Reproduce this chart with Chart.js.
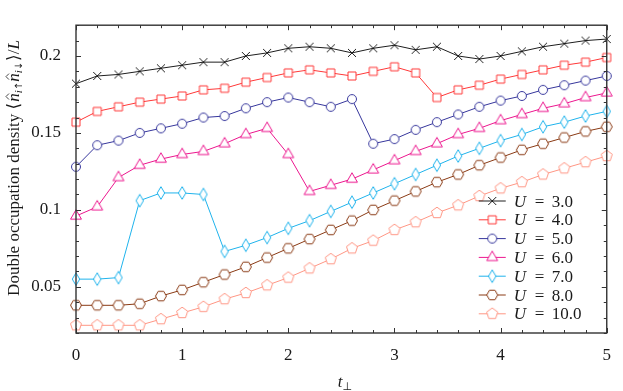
<!DOCTYPE html>
<html>
<head>
<meta charset="utf-8">
<script src="https://cdn.jsdelivr.net/npm/chart.js@4/dist/chart.umd.min.js"></script>
<style>
    body { margin: 0; background: #ffffff; }
    canvas { display: block; }
</style>
</head>
<body>
<canvas id="myChart" width="623" height="391"></canvas>
<script>
// hopping t_perp values (x axis)
const tValues = [0, 0.2, 0.4, 0.6, 0.8, 1.0, 1.2, 1.4, 1.6, 1.8, 2.0, 2.2, 2.4,
    2.6, 2.8, 3.0, 3.2, 3.4, 3.6, 3.8, 4.0, 4.2, 4.4, 4.6, 4.8, 5.0]

// double occupation density per U
const u3 = [0.182, 0.187, 0.188, 0.190, 0.192, 0.194, 0.196, 0.196, 0.200, 0.202, 0.205, 0.206, 0.205,
    0.202, 0.205, 0.207, 0.204, 0.206, 0.200, 0.198, 0.200, 0.203, 0.206, 0.208, 0.210, 0.211]
const u4 = [0.157, 0.164, 0.167, 0.170, 0.172, 0.174, 0.178, 0.179, 0.183, 0.186, 0.189, 0.191, 0.189,
    0.187, 0.190, 0.193, 0.189, 0.173, 0.178, 0.181, 0.185, 0.188, 0.191, 0.194, 0.196, 0.199]
const u5 = [0.128, 0.142, 0.145, 0.150, 0.153, 0.156, 0.160, 0.161, 0.166, 0.170, 0.173, 0.170, 0.167,
    0.172, 0.143, 0.146, 0.152, 0.157, 0.162, 0.167, 0.171, 0.174, 0.178, 0.181, 0.184, 0.187]
const u6 = [0.096, 0.102, 0.121, 0.129, 0.133, 0.136, 0.138, 0.143, 0.149, 0.153, 0.136, 0.112, 0.116,
    0.120, 0.126, 0.132, 0.138, 0.143, 0.149, 0.153, 0.158, 0.162, 0.166, 0.169, 0.173, 0.176]
const u7 = [0.055, 0.055, 0.056, 0.106, 0.111, 0.111, 0.110, 0.073, 0.077, 0.082, 0.088, 0.093, 0.099,
    0.105, 0.111, 0.117, 0.123, 0.129, 0.135, 0.140, 0.145, 0.149, 0.154, 0.157, 0.161, 0.164]
const u8 = [0.038, 0.038, 0.038, 0.039, 0.044, 0.048, 0.053, 0.058, 0.063, 0.069, 0.075, 0.081, 0.087,
    0.093, 0.100, 0.106, 0.112, 0.118, 0.123, 0.129, 0.134, 0.139, 0.143, 0.147, 0.151, 0.154]
const u10 = [0.025, 0.025, 0.025, 0.025, 0.029, 0.033, 0.037, 0.042, 0.046, 0.051, 0.056, 0.062, 0.068,
    0.075, 0.080, 0.087, 0.092, 0.098, 0.103, 0.109, 0.114, 0.118, 0.123, 0.127, 0.131, 0.135]

const seriesNames = ["3.0", "4.0", "5.0", "6.0", "7.0", "8.0", "10.0"]
const seriesData = [u3, u4, u5, u6, u7, u8, u10]

const xTickValues = [0, 1, 2, 3, 4, 5]
const xTickLabels = ["0", "1", "2", "3", "4", "5"]
const yTickValues = [0.05, 0.1, 0.15, 0.2]
const yTickLabels = ["0.05", "0.1", "0.15", "0.2"]

const seriesColors = ['#1e1e1e', '#ff3838', '#36369c', '#ec168e', '#1fb3ec', '#8a3a14', '#ff9684']
const seriesShapes = ["cross", "square", "circle", "triangle", "diamond", "hexagon", "pentagon"]

const serif = '"Liberation Serif", "Times New Roman", "DejaVu Serif", serif'
const textColor = '#1a1a1a'

function polygon(ctx, r, n, start) {
    for (let k = 0; k < n; k++) {
        const a = start + k * 2 * Math.PI / n
        const px = r * Math.cos(a), py = r * Math.sin(a)
        if (k == 0) ctx.moveTo(px, py)
        else ctx.lineTo(px, py)
    }
    ctx.closePath()
}

function makeMarker(shape, color) {
    const c = document.createElement("canvas")
    c.width = 16
    c.height = 16
    const ctx = c.getContext("2d")
    ctx.translate(8, 8)
    ctx.strokeStyle = color
    ctx.fillStyle = '#ffffff'
    ctx.lineWidth = 1
    ctx.beginPath()
    if (shape == "cross") {
        ctx.moveTo(-4, -4); ctx.lineTo(4, 4)
        ctx.moveTo(4, -4); ctx.lineTo(-4, 4)
        ctx.stroke()
        return c
    }
    if (shape == "square") ctx.rect(-4, -4, 8, 8)
    if (shape == "circle") ctx.arc(0, 0, 4.5, 0, Math.PI * 2)
    if (shape == "triangle") polygon(ctx, 6.3, 3, -Math.PI / 2)
    if (shape == "diamond") {
        ctx.moveTo(0, -6.3); ctx.lineTo(3.7, 0); ctx.lineTo(0, 6.3); ctx.lineTo(-3.7, 0); ctx.closePath()
    }
    if (shape == "hexagon") polygon(ctx, 5.5, 6, 0)
    if (shape == "pentagon") polygon(ctx, 5.8, 5, -Math.PI / 2)
    ctx.fill()
    ctx.stroke()
    return c
}

const markers = seriesShapes.map(function (s, i) { return makeMarker(s, seriesColors[i]) })

const datasets = seriesData.map(function (values, i) {
    return {
        label: "U = " + seriesNames[i],
        data: values.map(function (v, j) { return { x: tValues[j], y: v } }),
        borderColor: seriesColors[i],
        backgroundColor: seriesColors[i],
        borderWidth: 1,
        pointStyle: markers[i],
        pointRadius: 5,
        clip: false,
        order: i
    }
})

// draws a row of text pieces centred at (cx, cy), optionally rotated
function drawPieces(ctx, pieces, cx, cy, rotate) {
    ctx.save()
    ctx.translate(cx, cy)
    if (rotate) ctx.rotate(-Math.PI / 2)
    let total = 0
    pieces.forEach(function (p) {
        ctx.font = p.font
        total += ctx.measureText(p.text).width + (p.gap || 0)
    })
    let x = -total / 2
    ctx.fillStyle = textColor
    ctx.strokeStyle = textColor
    ctx.textBaseline = "alphabetic"
    ctx.textAlign = "left"
    pieces.forEach(function (p) {
        ctx.font = p.font
        const w = ctx.measureText(p.text).width
        ctx.fillText(p.text, x, p.dy || 0)
        if (p.hat) {
            const hx = x + w / 2 + 1
            ctx.lineWidth = 0.8
            ctx.beginPath()
            ctx.moveTo(hx - 3, -10)
            ctx.lineTo(hx, -13)
            ctx.lineTo(hx + 3, -10)
            ctx.stroke()
        }
        x += w + (p.gap || 0)
    })
    ctx.restore()
}

const axisDecor = {
    id: 'axisDecor',
    afterDatasetsDraw: function (chart) {
        const ctx = chart.ctx
        const a = chart.chartArea
        const xs = chart.scales.x
        const ys = chart.scales.y
        ctx.save()
        ctx.strokeStyle = '#333333'
        ctx.lineWidth = 1
        ctx.beginPath()
        // minor and major ticks, pointing inwards on all four sides
        tValues.forEach(function (t) {
            const px = Math.round(xs.getPixelForValue(t)) + 0.5
            const len = xTickValues.includes(Math.round(t * 10) / 10) ? 5 : 3
            ctx.moveTo(px, a.bottom); ctx.lineTo(px, a.bottom - len)
            ctx.moveTo(px, a.top); ctx.lineTo(px, a.top + len)
        })
        for (let k = 2; k <= 22; k++) {
            const v = k / 100
            const py = Math.round(ys.getPixelForValue(v)) + 0.5
            const len = (k % 5 == 0) ? 5 : 3
            ctx.moveTo(a.left, py); ctx.lineTo(a.left + len, py)
            ctx.moveTo(a.right, py); ctx.lineTo(a.right - len, py)
        }
        ctx.stroke()
        ctx.lineWidth = 1.4
        ctx.strokeRect(a.left, a.top, a.right - a.left, a.bottom - a.top)
        ctx.restore()
    },
    afterDraw: function (chart) {
        const ctx = chart.ctx
        const a = chart.chartArea
        const it = "italic 17px " + serif
        const sub = "italic 11px " + serif
        const arrow = "10px 'DejaVu Sans'"
        drawPieces(ctx, [
            { text: "Double occupation density ", font: "17px " + serif },
            { text: "\u27E8", font: "17px 'DejaVu Serif'", gap: 1 },
            { text: "n", font: it, hat: true },
            { text: "i", font: sub, dy: 3 },
            { text: "\u2191", font: arrow, dy: 3 },
            { text: "n", font: it, hat: true },
            { text: "i", font: sub, dy: 3 },
            { text: "\u2193", font: arrow, dy: 3, gap: 1 },
            { text: "\u27E9", font: "17px 'DejaVu Serif'" },
            { text: "/", font: "17px " + serif },
            { text: "L", font: it }
        ], 19, 168, true)

        drawPieces(ctx, [
            { text: "t", font: it },
            { text: "\u22A5", font: "11px 'DejaVu Sans'", dy: 3 }
        ], 345, 387, false)

        // legend inside the plot, lower right
        ctx.save()
        for (let i = 0; i < seriesNames.length; i++) {
            const rowY = a.bottom - 132 + i * 18.8
            ctx.strokeStyle = seriesColors[i]
            ctx.lineWidth = 1
            ctx.beginPath()
            ctx.moveTo(a.right - 128, rowY)
            ctx.lineTo(a.right - 101, rowY)
            ctx.stroke()
            ctx.drawImage(markers[i], a.right - 114.5 - 8, rowY - 8)
            ctx.fillStyle = textColor
            ctx.textBaseline = "alphabetic"
            ctx.font = it
            ctx.fillText("U", a.right - 93, rowY + 5.5)
            ctx.font = "17px " + serif
            ctx.fillText("=", a.right - 72, rowY + 5.5)
            ctx.fillText(seriesNames[i], a.right - 55, rowY + 5.5)
        }
        ctx.restore()
    }
}

const config = {
    type: 'line',
    data: { datasets: datasets },
    options: {
        responsive: false,
        animation: false,
        devicePixelRatio: 1,
        layout: { padding: { top: 1, right: 7, left: 0, bottom: 0 } },
        plugins: {
            legend: { display: false },
            tooltip: { enabled: false }
        },
        scales: {
            x: {
                type: 'linear',
                min: 0,
                max: 5,
                grid: { display: false, drawTicks: false },
                border: { display: false },
                afterBuildTicks: function (scale) {
                    scale.ticks = xTickValues.map(function (v) { return { value: v } })
                },
                afterFit: function (scale) { scale.height = 58 },
                ticks: {
                    autoSkip: false,
                    maxRotation: 0,
                    padding: 12,
                    color: textColor,
                    font: { family: serif, size: 17 },
                    callback: function (v, i) { return xTickLabels[i] }
                }
            },
            y: {
                type: 'linear',
                min: 0.02,
                max: 0.22,
                grid: { display: false, drawTicks: false },
                border: { display: false },
                afterBuildTicks: function (scale) {
                    scale.ticks = yTickValues.map(function (v) { return { value: v } })
                },
                afterFit: function (scale) { scale.width = 76 },
                ticks: {
                    padding: 15,
                    color: textColor,
                    font: { family: serif, size: 17 },
                    callback: function (v, i) { return yTickLabels[i] }
                }
            }
        }
    },
    plugins: [axisDecor]
}

const myChart = new Chart(document.getElementById("myChart"), config)
</script>
</body>
</html>
